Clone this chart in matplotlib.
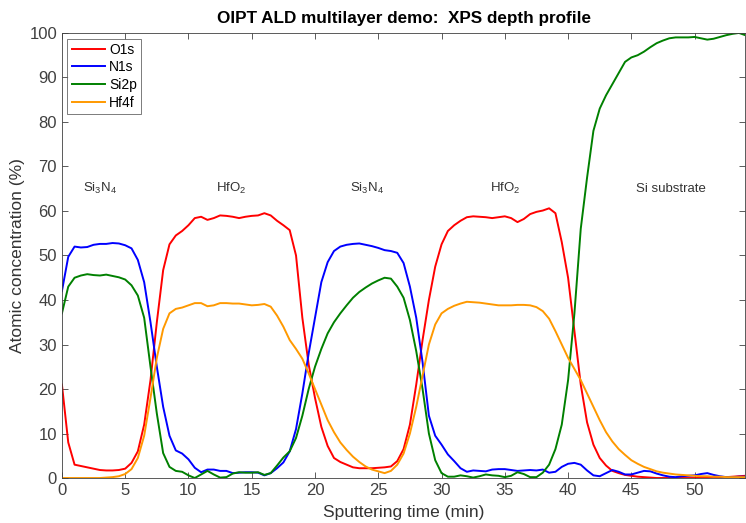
import matplotlib
matplotlib.use('Agg')
import matplotlib.pyplot as plt
import numpy as np

# sputtering time, 0.5 min steps
time_min = np.arange(0, 54.01, 0.5)

o1s = [
    21, 8, 3, 2.7, 2.4, 2.1, 1.8, 1.7, 1.7, 1.8,
    2.1, 3.4, 6, 12, 22, 35, 46.7, 52.5, 54.5, 55.5,
    56.8, 58.4, 58.7, 58, 58.4, 59, 58.9, 58.7, 58.4, 58.7,
    58.9, 59, 59.5, 59, 57.8, 56.8, 55.7, 50, 36, 25.5,
    18, 11.5, 7.2, 4.5, 3.6, 3, 2.4, 2.2, 2.2, 2.2,
    2.3, 2.4, 2.6, 3.8, 6.5, 12, 21, 31, 40, 47.5,
    52.5, 55.5, 56.8, 57.8, 58.6, 58.8, 58.7, 58.6, 58.4, 58.6,
    58.8, 58.4, 57.5, 58.2, 59.3, 59.8, 60.1, 60.6, 59.5, 53,
    45, 33, 21, 12.5, 7.5, 4.5, 2.8, 1.6, 1.1, 0.7,
    0.5, 0.3, 0.2, 0.1, 0, 0, 0, 0, 0, 0,
    0, 0, 0, 0, 0.1, 0.2, 0.3, 0.4, 0.5,
]

n1s = [
    42, 49.7, 52, 51.8, 51.9, 52.4, 52.6, 52.6, 52.8, 52.7,
    52.3, 51.6, 49, 44, 35, 25, 16, 9.5, 6.2, 5.5,
    4.2, 2.3, 1.3, 1.9, 1.9, 1.6, 1.6, 1.1, 1.2, 1.3,
    1.3, 1.2, 0.6, 1.1, 2.2, 3.5, 6, 11, 19, 28,
    36, 44, 48.5, 51, 52, 52.4, 52.6, 52.7, 52.4, 52.1,
    51.7, 51.2, 51, 50.6, 48.3, 43, 36, 26, 14, 9.5,
    7.5, 5.3, 3.8, 2.2, 1.4, 1.7, 1.6, 1.5, 1.9, 2,
    2, 1.8, 1.6, 1.7, 1.8, 1.7, 1.9, 1.2, 1.4, 2.5,
    3.2, 3.4, 3, 1.7, 0.6, 0.4, 1.1, 1.8, 1.4, 0.8,
    0.8, 1.2, 1.6, 1.5, 1, 0.6, 0.3, 0.2, 0.4, 0.5,
    0.6, 0.9, 1.1, 0.7, 0.4, 0.2, 0.2, 0.3, 0.3,
]

si2p = [
    37, 43, 45, 45.5, 45.8, 45.6, 45.5, 45.7, 45.4, 45.1,
    44.6, 43.3, 41, 36, 25, 14.5, 5.6, 2.5, 1.6, 1.4,
    0.6, 0, 0.8, 1.6, 0.8, 0.1, 0.2, 1.0, 1.3, 1.2,
    1.2, 1.3, 0.7, 1.1, 2.8, 4.6, 6, 9, 14, 20,
    25, 29, 32.5, 35, 37, 38.8, 40.5, 41.8, 42.8, 43.7,
    44.4, 45, 44.8, 43, 40.5, 35.5, 28.5, 20, 10, 4,
    1.1, 0.3, 0.3, 0.6, 0.4, 0.1, 0.4, 0.8, 0.6, 0.5,
    0.2, 0.5, 1.3, 0.9, 0.2, 0.2, 1.2, 3, 6.5, 12,
    22, 37, 56, 67.5, 78, 83, 86, 88.5, 91, 93.5,
    94.5, 95, 95.8, 96.8, 97.7, 98.3, 98.8, 99, 99, 99,
    99.1, 98.8, 98.5, 98.7, 99.1, 99.5, 99.8, 100, 99.5,
]

hf4f = [
    0, 0, 0, 0, 0, 0, 0, 0.1, 0.2, 0.4,
    0.9, 2, 4.5, 9.5, 18, 27, 33.5, 37, 38, 38.3,
    38.8, 39.3, 39.3, 38.6, 38.8, 39.3, 39.3, 39.2, 39.2, 39,
    38.8, 38.9, 39.1, 38.5, 36.5, 34, 31, 29, 26.8, 23.5,
    20, 16.5, 13, 10.3, 8, 6.3, 4.8, 3.6, 2.6, 1.9,
    1.5, 1.1, 1.6, 3, 5.5, 10, 16, 23, 30, 34.5,
    37, 38, 38.7, 39.2, 39.6, 39.5, 39.4, 39.2, 39, 38.8,
    38.8, 38.8, 38.9, 38.9, 38.8, 38.4, 37.5, 35.8, 33, 30,
    27, 24.5, 22, 19, 16, 13, 10.3, 8.2, 6.5, 5.2,
    4, 3.2, 2.5, 2, 1.5, 1.2, 1, 0.8, 0.7, 0.6,
    0.5, 0.4, 0.4, 0.3, 0.3, 0.2, 0.2, 0.2, 0.2,
]

layer_labels = [r'Si$_\mathregular{3}$N$_\mathregular{4}$', r'HfO$_\mathregular{2}$',
                r'Si$_\mathregular{3}$N$_\mathregular{4}$', r'HfO$_\mathregular{2}$', 'Si substrate']
layer_pos = [3.0, 13.4, 24.1, 35.0, 48.1]

plt.rcParams['font.family'] = ['Liberation Sans', 'DejaVu Sans']

fig = plt.figure(figsize=(7.46, 5.23), dpi=100)
ax = fig.add_axes([0.083, 0.086, 0.916, 0.851])

ax.plot(time_min, o1s, color='#ff0000', lw=1.4, label='O1s')
ax.plot(time_min, n1s, color='#0000ff', lw=1.4, label='N1s')
ax.plot(time_min, si2p, color='#008000', lw=1.4, label='Si2p')
ax.plot(time_min, hf4f, color='#ff9900', lw=1.4, label='Hf4f')

for lab, x in zip(layer_labels, layer_pos):
    ax.text(x, 65, lab, ha='center', va='center', fontsize=9.5, color='#333333')

ax.set_xlim(0, 54)
ax.set_ylim(0, 100)
ax.set_xticks(np.arange(0, 51, 5))
ax.set_yticks(np.arange(0, 101, 10))
ax.tick_params(direction='in', top=True, right=True, labelsize=12, colors='#404040',
               length=4, width=0.6)
for s in ax.spines.values():
    s.set_color('#404040')
    s.set_linewidth(0.6)

ax.set_xlabel('Sputtering time (min)', fontsize=12.5, color='#333333', labelpad=5)
ax.set_ylabel('Atomic concentration (%)', fontsize=12.5, color='#333333', labelpad=3)
ax.set_title('OIPT ALD multilayer demo:  XPS depth profile', fontsize=12.3,
             fontweight='bold', pad=7)

leg = ax.legend(loc='upper left', fontsize=10, frameon=True, fancybox=False,
                edgecolor='#404040', handlelength=2.4, borderpad=0.3,
                labelspacing=0.26, handletextpad=0.3, borderaxespad=0.4)
leg.get_frame().set_linewidth(0.6)

fig.savefig('out.png', dpi=100)
